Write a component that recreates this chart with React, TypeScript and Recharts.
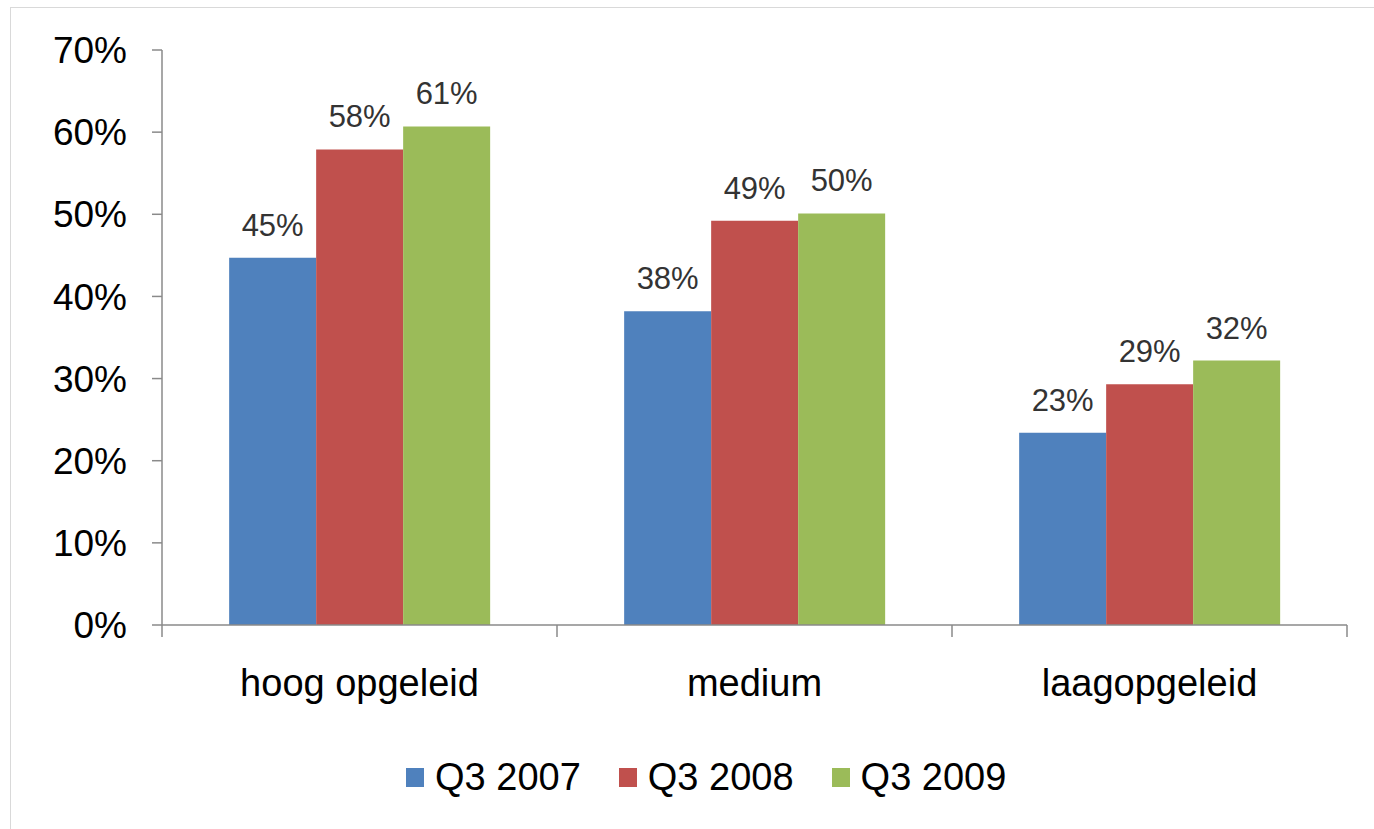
import React from 'react';
import { BarChart, Bar, XAxis, YAxis, Legend, LabelList } from 'recharts';

const categories = ['hoog opgeleid', 'medium', 'laagopgeleid'];
const q3_2007 = [44.7, 38.2, 23.4];
const q3_2008 = [57.9, 49.2, 29.3];
const q3_2009 = [60.7, 50.1, 32.2];
const yTicks = [0, 10, 20, 30, 40, 50, 60, 70];

const series = [
  { key: 'q2007', name: 'Q3 2007', color: '#4F81BD', values: q3_2007 },
  { key: 'q2008', name: 'Q3 2008', color: '#C0504D', values: q3_2008 },
  { key: 'q2009', name: 'Q3 2009', color: '#9BBB59', values: q3_2009 },
];

const data = categories.map((name, i) => {
  const row: Record<string, string | number> = { name };
  series.forEach((s) => {
    row[s.key] = s.values[i];
  });
  return row;
});

const AXIS = '#8a8a8a';
const LABEL_GAP = 44;
const TICK_LEN = 12;

const renderLegend = (props: any) => {
  const payload = props.payload || [];
  return (
    <div style={{ display: 'flex', alignItems: 'center', height: 50, paddingLeft: 406 }}>
      {payload.map((p: any, i: number) => (
        <div key={p.value} style={{ display: 'flex', alignItems: 'center', marginLeft: i ? 38 : 0 }}>
          <span style={{ display: 'inline-block', width: 18, height: 19, background: p.color, marginRight: 11 }} />
          <span style={{ fontSize: 38, lineHeight: '38px', color: '#000' }}>{p.value}</span>
        </div>
      ))}
    </div>
  );
};

// category label plus tick marks on the band edges (Excel style)
const CategoryTick = (props: any) => {
  const { x, y, width, visibleTicksCount, index, payload } = props;
  const half = Number(width) / Number(visibleTicksCount) / 2;
  const axisY = y - LABEL_GAP;
  const last = index === visibleTicksCount - 1;
  return (
    <g>
      <line x1={x - half} x2={x - half} y1={axisY} y2={axisY + TICK_LEN} stroke={AXIS} strokeWidth={1.5} />
      {last && <line x1={x + half} x2={x + half} y1={axisY} y2={axisY + TICK_LEN} stroke={AXIS} strokeWidth={1.5} />}
      <text x={x} y={y} dy="0.71em" textAnchor="middle" fill="#000" fontSize={38}>
        {payload.value}
      </text>
    </g>
  );
};

export default function App() {
  return (
    <div
      style={{
        position: 'absolute',
        left: 0,
        top: 0,
        width: 1374,
        height: 829,
        overflow: 'hidden',
        background: '#fff',
        fontFamily: '"Liberation Sans", Arial, sans-serif',
      }}
    >
      <div
        style={{
          position: 'absolute',
          left: 10,
          top: 7,
          width: 1400,
          height: 900,
          borderLeft: '1.5px solid #d9d9d9',
          borderTop: '1.5px solid #d9d9d9',
        }}
      />
      <div style={{ position: 'absolute', left: 0, top: 0 }}>
        <BarChart
          width={1374}
          height={829}
          data={data}
          margin={{ top: 50, right: 27, bottom: 27, left: 0 }}
          barCategoryGap="17%"
          barGap={0}
        >
          <XAxis
            dataKey="name"
            height={127}
            interval={0}
            stroke={AXIS}
            strokeWidth={1.5}
            tickLine={false}
            tickSize={0}
            tickMargin={LABEL_GAP}
            tick={CategoryTick}
          />
          <YAxis
            width={162}
            domain={[0, 70]}
            ticks={yTicks}
            tickFormatter={(v: number) => `${v}%`}
            tickSize={10}
            tickMargin={25}
            stroke={AXIS}
            strokeWidth={1.5}
            tick={{ fill: '#000', fontSize: 37 }}
          />
          <Legend verticalAlign="bottom" content={renderLegend} wrapperStyle={{ left: 0, width: 1374 }} />
          {series.map((s) => (
            <Bar key={s.key} dataKey={s.key} name={s.name} fill={s.color} isAnimationActive={false}>
              <LabelList
                dataKey={s.key}
                position="top"
                offset={22}
                formatter={(v: any) => `${Math.round(Number(v))}%`}
                style={{ fill: '#333', fontSize: 31 }}
              />
            </Bar>
          ))}
        </BarChart>
      </div>
    </div>
  );
}
